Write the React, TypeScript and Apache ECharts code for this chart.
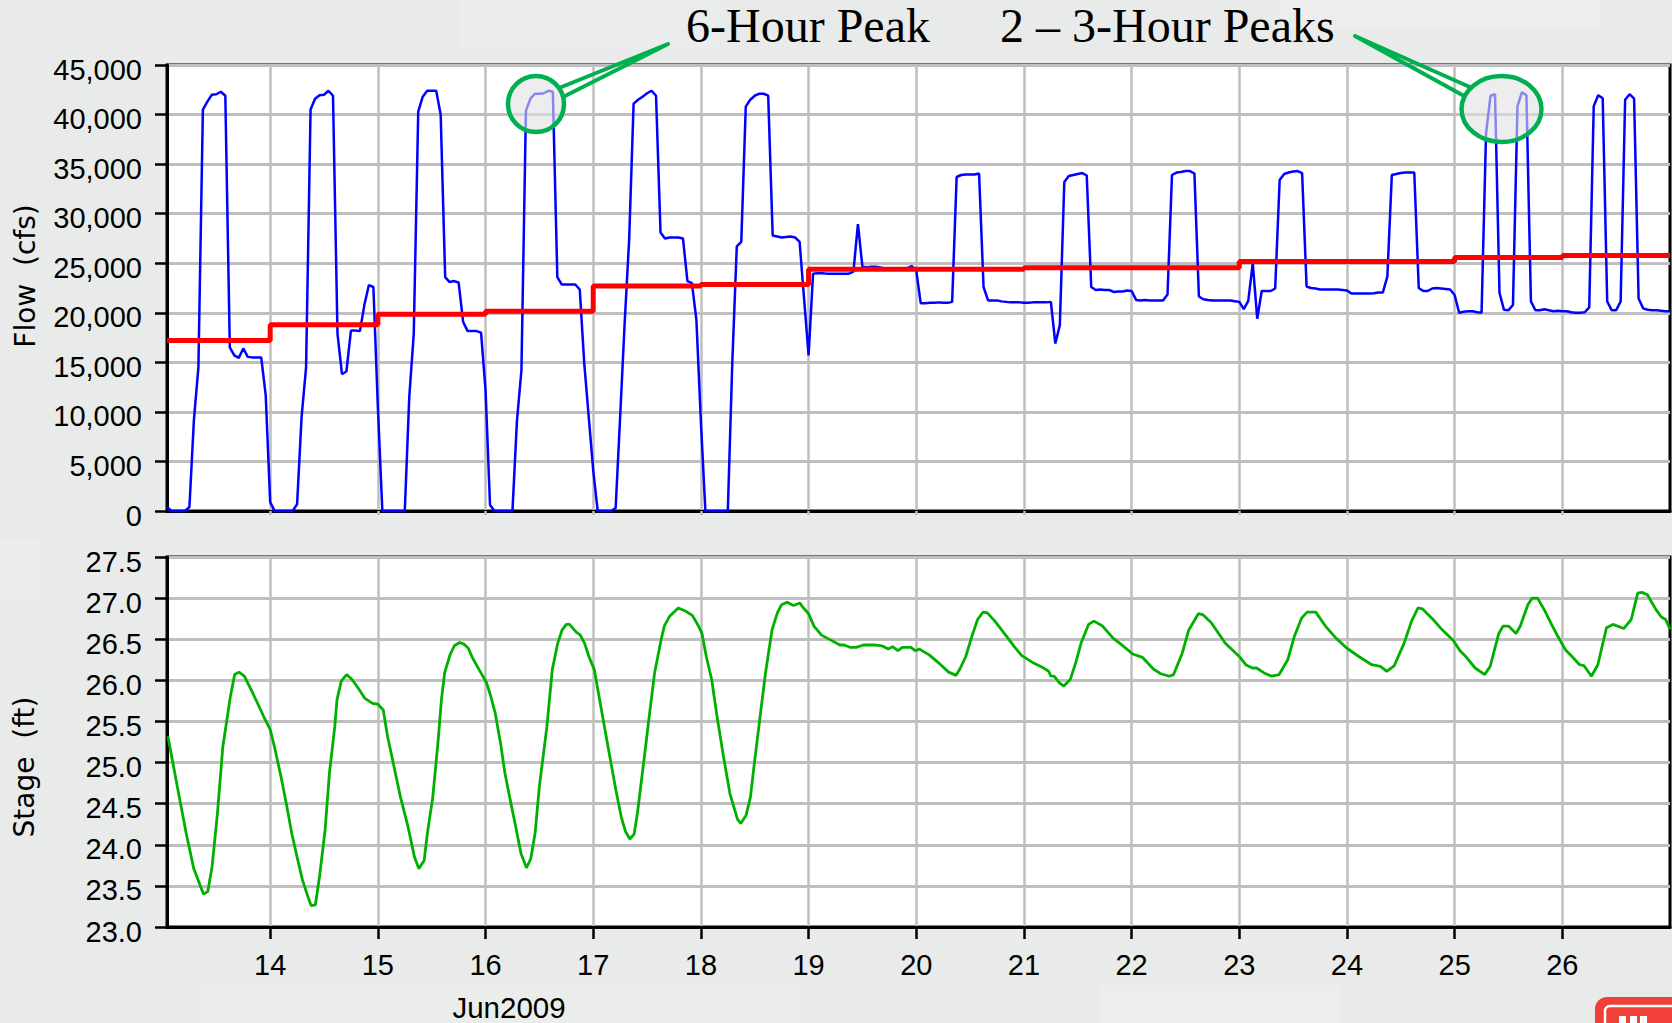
import React, { useEffect, useRef } from "react";
import * as echarts from "echarts";

const dayTicks = [14, 15, 16, 17, 18, 19, 20, 21, 22, 23, 24, 25, 26];

// Hourly flow (cfs); each list starts at 01:00 of the named June day.
const flow13 = [400, 0, 0, 0, 0, 400, 9200, 14500, 40500, 41300, 42000, 42050, 42300, 41900, 16500, 15700, 15450, 16400, 15550, 15500, 15500, 15500, 11700, 900];
const flow14 = [0, 0, 0, 0, 0, 700, 9500, 14500, 40500, 41600, 41950, 42000, 42400, 41900, 17900, 13800, 14100, 18200, 18200, 18150, 20800, 22800, 22600, 10500];
const flow15 = [0, 0, 0, 0, 0, 0, 11500, 17900, 40300, 41800, 42400, 42400, 42400, 40000, 23600, 23100, 23200, 23050, 19100, 18150, 18150, 18150, 18000, 12200];
const flow16 = [600, 0, 0, 0, 0, 0, 9100, 14200, 40400, 41600, 42100, 42100, 42150, 42400, 42300, 23600, 22850, 22850, 22850, 22850, 22350, 14900, 9500, 4100];
const flow17 = [0, 0, 0, 0, 300, 9500, 18900, 27300, 41100, 41500, 41800, 42150, 42400, 41900, 28100, 27500, 27600, 27600, 27600, 27500, 23200, 23000, 19250, 9000];
const flow18 = [0, 0, 0, 0, 0, 0, 15000, 26700, 27150, 40800, 41500, 41900, 42100, 42100, 41900, 27800, 27700, 27600, 27650, 27700, 27600, 27150, 21400, 15700];
const flow19 = [23950, 24000, 24000, 23950, 23950, 23950, 23950, 23950, 23950, 24150, 28950, 24650, 24600, 24650, 24650, 24570, 24450, 24400, 24400, 24400, 24450, 24500, 24700, 24250];
const flow20 = [20950, 20950, 21000, 21000, 21050, 21000, 21000, 21100, 33700, 33900, 33950, 33950, 33950, 34050, 22600, 21250, 21250, 21250, 21150, 21100, 21050, 21050, 21050, 21000];
const flow21 = [21000, 21050, 21050, 21050, 21050, 21100, 16900, 18750, 33200, 33800, 33900, 34000, 34100, 33850, 22600, 22300, 22350, 22300, 22300, 22100, 22150, 22150, 22250, 22200];
const flow22 = [21300, 21250, 21300, 21250, 21250, 21250, 21250, 21850, 33900, 34150, 34200, 34300, 34300, 34050, 21640, 21370, 21300, 21240, 21240, 21240, 21240, 21240, 21170, 21100];
const flow23 = [20360, 21200, 25000, 19400, 22200, 22200, 22200, 22450, 33400, 34000, 34150, 34250, 34300, 34100, 22650, 22500, 22450, 22350, 22350, 22350, 22350, 22350, 22300, 22250];
const flow24 = [21950, 21950, 21950, 21950, 21950, 21980, 22050, 22050, 23650, 33900, 34000, 34100, 34150, 34150, 34150, 22500, 22200, 22200, 22450, 22500, 22450, 22400, 22350, 21800];
const flow25 = [20000, 20100, 20150, 20150, 20050, 20000, 38100, 41900, 42050, 22000, 20300, 20250, 20800, 40850, 42250, 41950, 21150, 20250, 20250, 20350, 20250, 20150, 20200, 20150];
const flow26 = [20150, 20050, 20000, 20000, 20050, 20550, 40850, 41950, 41650, 21150, 20250, 20250, 21150, 41500, 42050, 41600, 21450, 20450, 20300, 20250, 20250, 20200, 20150, 20150];
const flowValues = [flow13, flow14, flow15, flow16, flow17, flow18, flow19, flow20, flow21, flow22, flow23, flow24, flow25, flow26].flat();

// The stepped red flow, one value per day.
const stepDays = [13.0417, 14, 15, 16, 17, 18, 19, 20, 21, 22, 23, 24, 25, 26, 27];
const stepValues = [17200, 18800, 19860, 20160, 22690, 22850, 24400, 24400, 24550, 24550, 25180, 25180, 25580, 25780, 25780];

const stageDays = [13.05, 13.15, 13.22, 13.29, 13.38, 13.42, 13.46, 13.51, 13.56, 13.63, 13.67, 13.71, 13.76, 13.84, 13.89, 13.94, 14, 14.04, 14.1, 14.15, 14.2, 14.25, 14.3, 14.35, 14.38, 14.42, 14.46, 14.51, 14.55, 14.6, 14.62, 14.66, 14.71, 14.76, 14.82, 14.88, 14.95, 15, 15.05, 15.09, 15.15, 15.21, 15.28, 15.34, 15.38, 15.43, 15.46, 15.51, 15.56, 15.59, 15.62, 15.67, 15.71, 15.76, 15.8, 15.84, 15.88, 15.94, 16.01, 16.05, 16.09, 16.14, 16.18, 16.23, 16.28, 16.33, 16.38, 16.42, 16.46, 16.5, 16.57, 16.62, 16.67, 16.71, 16.75, 16.78, 16.84, 16.88, 16.92, 16.96, 17.01, 17.06, 17.12, 17.16, 17.21, 17.26, 17.3, 17.34, 17.38, 17.41, 17.46, 17.52, 17.57, 17.63, 17.66, 17.71, 17.79, 17.86, 17.92, 17.97, 18.01, 18.05, 18.1, 18.15, 18.21, 18.27, 18.34, 18.37, 18.42, 18.46, 18.5, 18.55, 18.6, 18.66, 18.71, 18.75, 18.8, 18.86, 18.92, 18.94, 19, 19.05, 19.12, 19.22, 19.29, 19.33, 19.39, 19.44, 19.51, 19.61, 19.68, 19.74, 19.78, 19.83, 19.87, 19.95, 19.99, 20.03, 20.12, 20.21, 20.3, 20.37, 20.41, 20.46, 20.52, 20.57, 20.62, 20.66, 20.73, 20.83, 20.91, 20.98, 21.09, 21.17, 21.23, 21.25, 21.28, 21.33, 21.37, 21.43, 21.48, 21.53, 21.6, 21.65, 21.73, 21.83, 21.9, 22.01, 22.1, 22.2, 22.27, 22.35, 22.39, 22.47, 22.53, 22.62, 22.66, 22.74, 22.87, 23, 23.06, 23.12, 23.16, 23.23, 23.3, 23.37, 23.45, 23.51, 23.58, 23.63, 23.71, 23.8, 23.9, 24, 24.11, 24.23, 24.31, 24.37, 24.44, 24.53, 24.6, 24.66, 24.7, 24.8, 24.88, 24.99, 25.05, 25.11, 25.19, 25.28, 25.33, 25.41, 25.45, 25.5, 25.57, 25.61, 25.68, 25.72, 25.77, 25.84, 25.9, 25.96, 26.03, 26.09, 26.16, 26.2, 26.27, 26.33, 26.41, 26.47, 26.57, 26.64, 26.7, 26.74, 26.79, 26.87, 26.92, 26.96, 27];
const stageValues = [25.32, 24.62, 24.14, 23.71, 23.4, 23.43, 23.73, 24.38, 25.19, 25.8, 26.07, 26.1, 26.05, 25.84, 25.7, 25.56, 25.4, 25.19, 24.83, 24.5, 24.14, 23.85, 23.57, 23.37, 23.26, 23.27, 23.63, 24.18, 24.87, 25.44, 25.76, 25.99, 26.07, 26.01, 25.9, 25.78, 25.72, 25.71, 25.64, 25.32, 24.95, 24.58, 24.22, 23.85, 23.71, 23.81, 24.14, 24.58, 25.27, 25.76, 26.09, 26.31, 26.42, 26.46, 26.44, 26.39, 26.27, 26.13, 25.97, 25.8, 25.6, 25.23, 24.87, 24.54, 24.22, 23.89, 23.72, 23.83, 24.14, 24.71, 25.44, 26.13, 26.45, 26.61, 26.68, 26.68, 26.59, 26.55, 26.45, 26.29, 26.13, 25.76, 25.32, 25.03, 24.67, 24.34, 24.16, 24.07, 24.13, 24.38, 24.91, 25.56, 26.09, 26.49, 26.66, 26.78, 26.88, 26.84, 26.79, 26.68, 26.57, 26.29, 26.01, 25.56, 25.07, 24.62, 24.31, 24.26, 24.36, 24.58, 25.03, 25.56, 26.09, 26.61, 26.82, 26.92, 26.95, 26.91, 26.94, 26.9, 26.81, 26.66, 26.55, 26.48, 26.43, 26.43, 26.4, 26.4, 26.43, 26.43, 26.42, 26.38, 26.41, 26.36, 26.4, 26.4, 26.36, 26.38, 26.31, 26.21, 26.1, 26.06, 26.15, 26.29, 26.55, 26.74, 26.83, 26.82, 26.72, 26.55, 26.41, 26.3, 26.21, 26.16, 26.11, 26.05, 26.05, 25.97, 25.93, 26.01, 26.21, 26.45, 26.68, 26.72, 26.66, 26.51, 26.44, 26.32, 26.28, 26.14, 26.08, 26.05, 26.07, 26.33, 26.61, 26.81, 26.8, 26.7, 26.45, 26.29, 26.19, 26.15, 26.15, 26.09, 26.05, 26.07, 26.25, 26.53, 26.76, 26.83, 26.83, 26.66, 26.51, 26.39, 26.29, 26.19, 26.17, 26.11, 26.18, 26.45, 26.72, 26.88, 26.87, 26.74, 26.62, 26.48, 26.36, 26.28, 26.15, 26.07, 26.17, 26.57, 26.66, 26.66, 26.57, 26.66, 26.92, 27, 27, 26.84, 26.68, 26.53, 26.37, 26.29, 26.19, 26.18, 26.05, 26.19, 26.64, 26.68, 26.63, 26.74, 27.06, 27.07, 27.04, 26.86, 26.77, 26.74, 26.62];

const green = "#00b050";
const labelFont = "Liberation Sans";

export default function App() {
  const ref = useRef<HTMLDivElement>(null);
  useEffect(() => {
    document.body.style.margin = "0";
    const chart = echarts.init(ref.current!, undefined, { renderer: "svg" });
    const xMin = 13.0417;
    const xMax = 27;
    const gridLine = { show: true, lineStyle: { color: "#bfbfbf", width: 2.5 } };
    const yCommon = {
      type: "value" as const,
      axisLine: { show: true, lineStyle: { color: "#000", width: 3 } },
      axisTick: { show: true, length: 12, lineStyle: { color: "#000", width: 2.5 } },
      splitLine: { show: true, lineStyle: { color: "#bfbfbf", width: 3 } },
    };
    const labelBase = { color: "#000", fontFamily: labelFont, fontSize: 29 };
    const patch = (x: number, y: number, width: number, height: number, fill: string) => ({
      type: "rect", z: -1, silent: true, shape: { x, y, width, height }, style: { fill },
    });
    chart.setOption({
      animation: false,
      backgroundColor: "#e8ebe9",
      grid: [
        { left: 167, top: 65, width: 1503, height: 446, show: true, backgroundColor: "#fff", borderColor: "#000", borderWidth: 3 },
        { left: 167, top: 557, width: 1503, height: 370, show: true, backgroundColor: "#fff", borderColor: "#000", borderWidth: 3 },
      ],
      xAxis: [
        {
          type: "value", gridIndex: 0, min: xMin, max: xMax,
          axisLine: { show: true, onZero: false, lineStyle: { color: "#000", width: 3 } },
          axisTick: { show: true, length: 4, customValues: dayTicks, lineStyle: { color: "#bfbfbf", width: 2.5 } },
          axisLabel: { show: false, customValues: dayTicks },
          splitLine: gridLine,
        },
        {
          type: "value", gridIndex: 1, min: xMin, max: xMax,
          axisLine: { show: true, onZero: false, lineStyle: { color: "#000", width: 3 } },
          axisTick: { show: true, length: 12, customValues: dayTicks, lineStyle: { color: "#000", width: 2.5 } },
          axisLabel: { ...labelBase, margin: 23, customValues: dayTicks, formatter: (v: number) => String(v), showMinLabel: true, showMaxLabel: true },
          splitLine: gridLine,
        },
      ],
      yAxis: [
        {
          ...yCommon, gridIndex: 0, min: 0, max: 45000, interval: 5000,
          axisLabel: { ...labelBase, margin: 25, verticalAlign: "top", lineHeight: 9, formatter: (v: number) => v.toLocaleString("en-US") },
        },
        {
          ...yCommon, gridIndex: 1, min: 23, max: 27.5, interval: 0.5,
          axisLabel: { ...labelBase, margin: 25, verticalAlign: "top", lineHeight: 9, formatter: (v: number) => v.toFixed(1) },
        },
      ],
      series: [
        {
          type: "line", name: "Flow", xAxisIndex: 0, yAxisIndex: 0, showSymbol: false, clip: false, z: 3,
          lineStyle: { color: "#0000ff", width: 2.5 },
          data: flowValues.map((v, i) => [13 + (i + 1) / 24, v]),
        },
        {
          type: "line", name: "Daily flow", xAxisIndex: 0, yAxisIndex: 0, showSymbol: false, step: "end", z: 4,
          lineStyle: { color: "#ff0000", width: 5 },
          data: stepDays.map((d, i) => [d, stepValues[i]]),
        },
        {
          type: "line", name: "Stage", xAxisIndex: 1, yAxisIndex: 1, showSymbol: false, z: 3,
          lineStyle: { color: "#00b000", width: 2.8 },
          data: stageDays.map((d, i) => [d, stageValues[i]]),
        },
      ],
      graphic: [
        patch(460, 0, 260, 50, "#eaedeb"),
        patch(1280, 0, 320, 30, "#ebeeec"),
        patch(0, 540, 40, 60, "#ebedeb"),
        patch(1100, 985, 240, 38, "#ebeeeb"),
        patch(200, 985, 600, 38, "#eaedea"),
        { type: "text", x: 25, y: 276, rotation: Math.PI / 2, z: 20, style: { text: "Flow  (cfs)", fill: "#000", font: "28px 'DejaVu Sans'", align: "center", verticalAlign: "middle" } },
        { type: "text", x: 24, y: 767, rotation: Math.PI / 2, z: 20, style: { text: "Stage  (ft)", fill: "#000", font: "28px 'DejaVu Sans'", align: "center", verticalAlign: "middle" } },
        { type: "text", x: 509, y: 1007, z: 20, style: { text: "Jun2009", fill: "#000", font: "29.5px 'Liberation Sans'", align: "center", verticalAlign: "middle" } },
        { type: "text", x: 686, y: 25.5, z: 20, style: { text: "6-Hour Peak", fill: "#000", font: "48px 'Liberation Serif'", align: "left", verticalAlign: "middle" } },
        { type: "text", x: 1000, y: 25.5, z: 20, style: { text: "2 – 3-Hour Peaks", fill: "#000", font: "48px 'Liberation Serif'", align: "left", verticalAlign: "middle" } },
        { type: "ellipse", z: 21, shape: { cx: 536, cy: 104, rx: 28, ry: 28 }, style: { fill: "rgba(225,225,225,0.6)", stroke: green, lineWidth: 4.5 } },
        { type: "ellipse", z: 21, shape: { cx: 1501.5, cy: 109, rx: 40, ry: 33 }, style: { fill: "rgba(225,225,225,0.6)", stroke: green, lineWidth: 4.5 } },
        { type: "polyline", z: 21, shape: { points: [[559, 88], [668, 44], [563, 97]] }, style: { fill: "none", stroke: green, lineWidth: 4, lineJoin: "round" } },
        { type: "polyline", z: 21, shape: { points: [[1472, 88], [1355, 36], [1466, 97]] }, style: { fill: "none", stroke: green, lineWidth: 4, lineJoin: "round" } },
        { type: "rect", z: 21, shape: { x: 1595, y: 997, width: 90, height: 40, r: 12 }, style: { fill: "#f04038" } },
        { type: "rect", z: 22, shape: { x: 1605, y: 1006, width: 80, height: 30, r: 5 }, style: { fill: "#f04038", stroke: "#fff", lineWidth: 2.5 } },
        { type: "rect", z: 23, shape: { x: 1619, y: 1016, width: 7, height: 8 }, style: { fill: "#fff" } },
        { type: "rect", z: 23, shape: { x: 1630, y: 1016, width: 7, height: 8 }, style: { fill: "#fff" } },
        { type: "rect", z: 23, shape: { x: 1640, y: 1016, width: 7, height: 8 }, style: { fill: "#fff" } },
      ],
    });
    return () => chart.dispose();
  }, []);
  return <div ref={ref} style={{ position: "fixed", left: 0, top: 0, width: 1672, height: 1023 }} />;
}
